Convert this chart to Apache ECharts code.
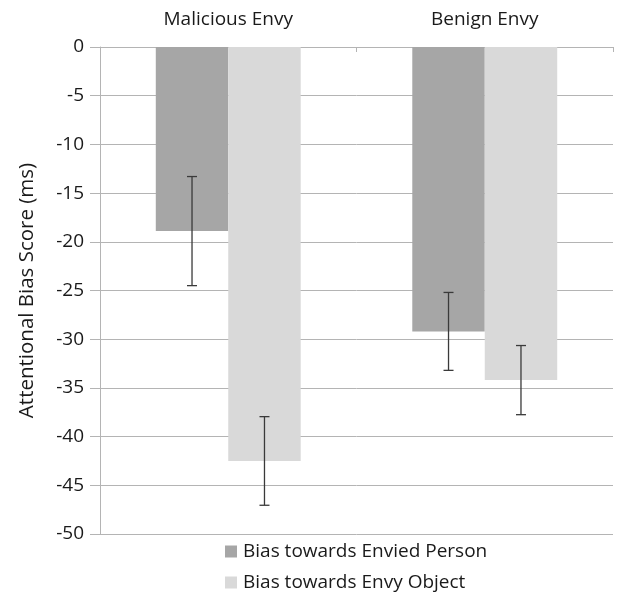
<!DOCTYPE html>
<html>
<head>
<meta charset="utf-8">
<script src="https://cdn.jsdelivr.net/npm/echarts@6/dist/echarts.min.js"></script>
<style>
  html, body { margin: 0; padding: 0; background: #fff; }
  #chart { width: 619px; height: 598px; }
</style>
</head>
<body>
<div id="chart"></div>
<script>
// Envy conditions shown along the top axis
const categories = ['Malicious Envy', 'Benign Envy'];
// Legend / series names
const seriesNames = ['Bias towards Envied Person', 'Bias towards Envy Object'];
// Mean attentional bias scores (ms)
const personMeans = [-18.9, -29.2];
const objectMeans = [-42.5, -34.2];
// Half-length of the error bars (ms)
const personErr = [5.6, 4.0];
const objectErr = [4.55, 3.55];
// Value axis ticks
const yMin = -50, yMax = 0, yStep = 5;

const FONT = '"Open Sans", Lato, sans-serif';
const TEXT = '#1a1a1a';
const GRID_LINE = '#b4b4b4';
const CAT_GAP = 0.435;

// Error bar drawing: one custom series per bar series, shifted to its bar's centre
function errorSeries(means, errs, side) {
  return {
    type: 'custom',
    z: 10,
    silent: true,
    data: means.map((m, i) => [i, m - errs[i], m + errs[i]]),
    renderItem: function (params, api) {
      const band = api.size([1, 0])[0];
      const groupW = band * (1 - CAT_GAP);
      const shift = side * groupW / 4;
      const lo = api.coord([api.value(0), api.value(1)]);
      const hi = api.coord([api.value(0), api.value(2)]);
      const x = lo[0] + shift;
      const cap = 5;
      const style = { stroke: '#3a3a3a', lineWidth: 1.3, fill: null };
      return {
        type: 'group',
        children: [
          { type: 'line', shape: { x1: x, y1: lo[1], x2: x, y2: hi[1] }, style: style },
          { type: 'line', shape: { x1: x - cap, y1: lo[1], x2: x + cap, y2: lo[1] }, style: style },
          { type: 'line', shape: { x1: x - cap, y1: hi[1], x2: x + cap, y2: hi[1] }, style: style }
        ]
      };
    }
  };
}

const chart = echarts.init(document.getElementById('chart'), null, { renderer: 'canvas' });
chart.setOption({
  animation: false,
  backgroundColor: '#fff',
  textStyle: { fontFamily: FONT, color: TEXT },
  grid: { left: 100, right: 6, top: 47, bottom: 64, containLabel: false },
  legend: {
    data: seriesNames,
    orient: 'vertical',
    left: 220,
    top: 537,
    itemWidth: 12,
    itemHeight: 12,
    itemGap: 12,
    icon: 'rect',
    textStyle: { fontFamily: FONT, fontSize: 19, color: TEXT, padding: [0, 0, 0, 1] }
  },
  xAxis: {
    type: 'category',
    data: categories,
    position: 'top',
    axisLine: { show: true, lineStyle: { color: GRID_LINE, width: 1 } },
    axisTick: { show: true, inside: true, length: 5, lineStyle: { color: GRID_LINE } },
    axisLabel: { fontFamily: FONT, fontSize: 19, color: TEXT, margin: 18 },
    splitLine: { show: false }
  },
  yAxis: {
    type: 'value',
    min: yMin,
    max: yMax,
    interval: yStep,
    name: 'Attentional Bias Score (ms)',
    nameLocation: 'middle',
    nameRotate: 90,
    nameGap: 62,
    nameTextStyle: { fontFamily: FONT, fontSize: 20.5, color: TEXT },
    axisLine: { show: true, lineStyle: { color: GRID_LINE, width: 1 } },
    axisTick: { show: true, length: 10, lineStyle: { color: GRID_LINE } },
    axisLabel: { fontFamily: FONT, fontSize: 19, color: TEXT, margin: 16 },
    splitLine: { show: true, lineStyle: { color: GRID_LINE, width: 1 } }
  },
  series: [
    {
      name: seriesNames[0],
      type: 'bar',
      data: personMeans,
      barGap: '0%',
      barCategoryGap: (CAT_GAP * 100) + '%',
      itemStyle: { color: '#a6a6a6' }
    },
    {
      name: seriesNames[1],
      type: 'bar',
      data: objectMeans,
      barGap: '0%',
      barCategoryGap: (CAT_GAP * 100) + '%',
      itemStyle: { color: '#d9d9d9' }
    },
    errorSeries(personMeans, personErr, -1),
    errorSeries(objectMeans, objectErr, 1)
  ]
});
</script>
</body>
</html>
